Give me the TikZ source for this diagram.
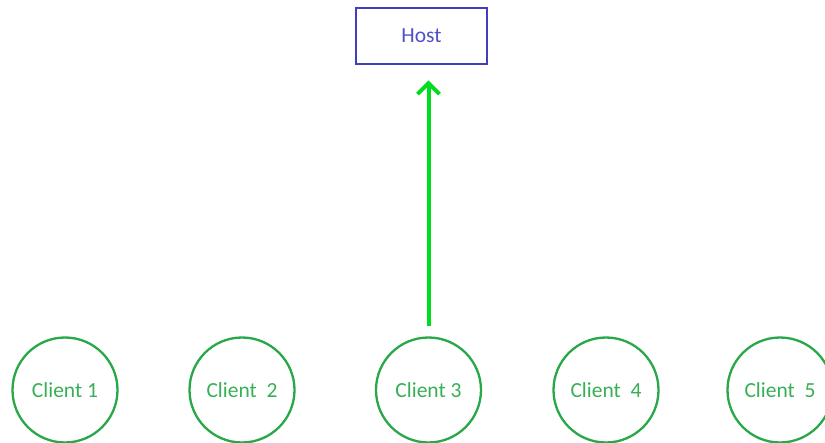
\documentclass[tikz,border=0pt]{standalone}
\usepackage{fontspec}
\setmainfont{Carlito}
\usetikzlibrary{arrows.meta}
\definecolor{hostblue}{RGB}{64,64,190}
\definecolor{hosttext}{RGB}{80,80,200}
\definecolor{clientgreen}{RGB}{40,168,72}
\definecolor{clienttext}{RGB}{55,175,85}
\definecolor{linkgreen}{RGB}{0,220,30}
\tikzset{
  hostbox/.style={draw=hostblue, line width=2.6pt, minimum width=131pt, minimum height=56pt,
    text=hosttext, font=\fontsize{21.5}{26}\selectfont, inner sep=0pt},
  clientnode/.style={draw=clientgreen, line width=2.3pt, circle,
    minimum size=105pt, text=clienttext, font=\fontsize{21.5}{26}\selectfont, inner sep=0pt},
  link/.style={draw=linkgreen, line width=4pt,
    -{Straight Barb[length=11pt,width=22pt]}, shorten >=15pt}
}
\begin{document}
\begin{tikzpicture}[x=1pt,y=-1pt]
  \useasboundingbox (0,0) rectangle (825,443);
  \node[hostbox] (host) at (421.5,36) {Host};
  \node[clientnode] (c1) at (65,390) {Client 1};
  \node[clientnode] (c2) at (242,390) {Client\ \ 2};
  \node[clientnode] (c3) at (428.5,390) {Client\ 3};
  \node[clientnode] (c4) at (606,390) {Client\ \ 4};
  \node[clientnode] (c5) at (780,390) {Client\ \ 5};
  \draw[link] ([yshift=10pt]c3.north) -- (c3.north |- host.south);
\end{tikzpicture}
\end{document}
